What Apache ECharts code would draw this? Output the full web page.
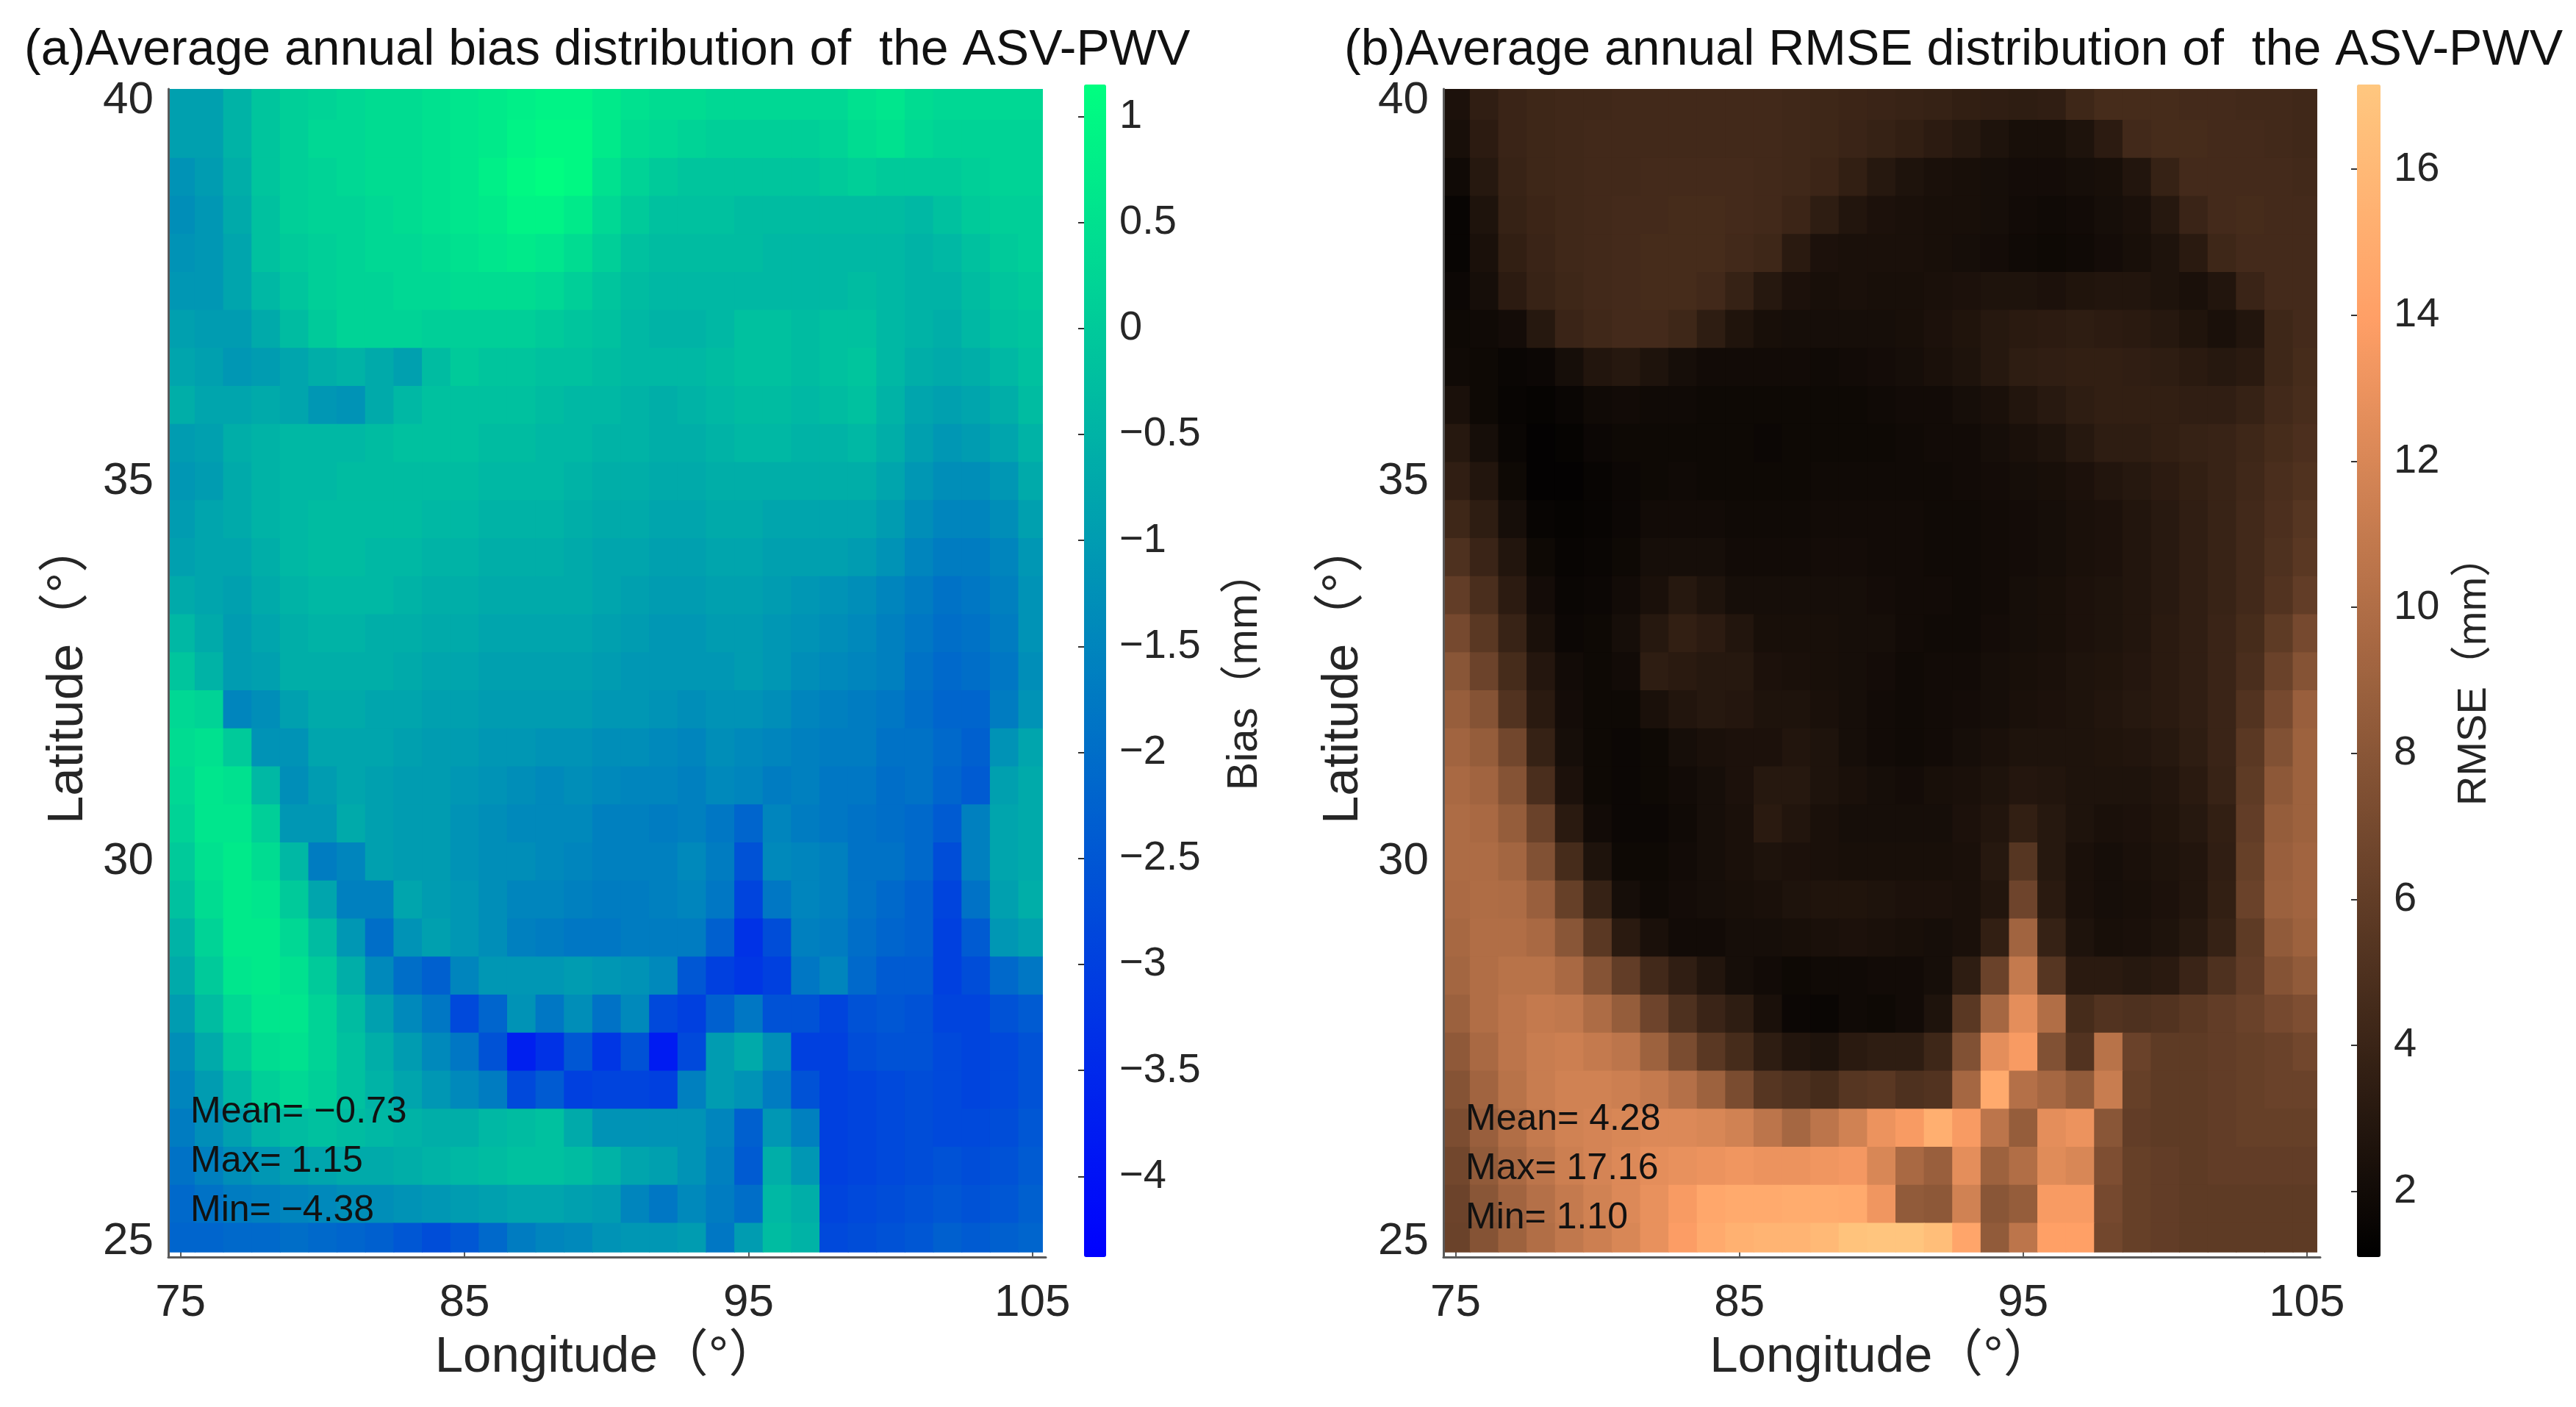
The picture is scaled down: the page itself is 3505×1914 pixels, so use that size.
<!DOCTYPE html>
<html>
<head>
<meta charset="utf-8">
<style>html,body{margin:0;padding:0;background:#fff}#main{width:3505px;height:1914px}</style>
<script src="https://cdn.jsdelivr.net/npm/echarts@6/dist/echarts.min.js"></script>
</head>
<body>
<div id="main"></div>
<script>
var lons=[75,76,77,78,79,80,81,82,83,84,85,86,87,88,89,90,91,92,93,94,95,96,97,98,99,100,101,102,103,104,105];
var lats=[40,39.5,39,38.5,38,37.5,37,36.5,36,35.5,35,34.5,34,33.5,33,32.5,32,31.5,31,30.5,30,29.5,29,28.5,28,27.5,27,26.5,26,25.5,25];
var lonTicks=[75,85,95,105];
var latTicks=[25,30,35,40];
var biasTicks=[1,0.5,0,-0.5,-1,-1.5,-2,-2.5,-3,-3.5,-4];
var rmseTicks=[2,4,6,8,10,12,14,16];
var biasStats=["Mean= \u22120.73","Max= 1.15","Min= \u22124.38"];
var rmseStats=["Mean= 4.28","Max= 17.16","Min= 1.10"];

// one row per latitude, north to south
var biasRows=[
[-0.9,-0.9,-0.5,-0.1,0.1,0.2,0.3,0.4,0.4,0.5,0.6,0.7,0.8,0.9,0.9,0.7,0.5,0.4,0.4,0.3,0.3,0.3,0.3,0.3,0.5,0.6,0.4,0.3,0.3,0.3,0.3],
[-0.9,-0.9,-0.5,-0.1,0.1,0.3,0.3,0.4,0.4,0.5,0.6,0.7,0.9,1.0,1.0,0.7,0.4,0.3,0.2,0.1,0.1,0.1,0.1,0.2,0.4,0.5,0.3,0.2,0.2,0.2,0.2],
[-1.2,-1.0,-0.6,-0.1,0.1,0.2,0.3,0.4,0.4,0.5,0.6,0.8,1.0,1.1,1.0,0.5,0.2,0,-0.1,-0.1,-0.1,-0.1,-0.1,0,0.1,0,0,0,0.1,0.2,0.2],
[-1.3,-1.1,-0.7,-0.2,0.1,0.2,0.2,0.3,0.4,0.5,0.6,0.7,0.9,0.9,0.7,0.3,0,-0.2,-0.2,-0.2,-0.3,-0.3,-0.3,-0.3,-0.3,-0.3,-0.4,-0.2,0,0.1,0.1],
[-1.2,-1.1,-0.8,-0.2,0,0.1,0.2,0.3,0.3,0.4,0.5,0.6,0.7,0.6,0.4,0.1,-0.2,-0.3,-0.3,-0.3,-0.3,-0.4,-0.4,-0.4,-0.4,-0.4,-0.5,-0.4,-0.2,0,0.1],
[-1.1,-1.1,-0.8,-0.4,-0.1,0.1,0.2,0.2,0.3,0.3,0.4,0.4,0.4,0.3,0.1,-0.1,-0.3,-0.4,-0.4,-0.4,-0.4,-0.4,-0.4,-0.4,-0.3,-0.4,-0.5,-0.5,-0.3,-0.1,0],
[-0.9,-1.0,-1.0,-0.7,-0.3,0,0.2,0.2,0.2,0.1,0.1,0.1,0.1,0,-0.1,-0.2,-0.4,-0.5,-0.5,-0.4,-0.2,-0.2,-0.3,-0.2,-0.2,-0.4,-0.5,-0.6,-0.4,-0.2,-0.1],
[-0.8,-0.9,-1.1,-1.0,-0.8,-0.6,-0.5,-0.7,-0.9,-0.3,0,-0.1,-0.1,-0.2,-0.2,-0.3,-0.4,-0.4,-0.4,-0.3,-0.2,-0.2,-0.3,-0.2,-0.1,-0.4,-0.6,-0.7,-0.6,-0.4,-0.2],
[-0.6,-0.8,-0.8,-0.7,-0.8,-1.1,-1.2,-0.7,-0.4,-0.2,-0.2,-0.2,-0.2,-0.3,-0.4,-0.4,-0.5,-0.6,-0.5,-0.4,-0.3,-0.3,-0.4,-0.3,-0.2,-0.5,-0.8,-0.9,-0.8,-0.6,-0.3],
[-1.0,-0.9,-0.6,-0.5,-0.4,-0.4,-0.4,-0.3,-0.2,-0.2,-0.2,-0.3,-0.3,-0.4,-0.4,-0.5,-0.5,-0.6,-0.6,-0.5,-0.4,-0.4,-0.5,-0.5,-0.4,-0.6,-0.9,-1.1,-1.0,-0.8,-0.5],
[-1.1,-1.0,-0.7,-0.5,-0.4,-0.4,-0.3,-0.3,-0.3,-0.3,-0.3,-0.4,-0.4,-0.4,-0.5,-0.6,-0.6,-0.7,-0.7,-0.6,-0.6,-0.6,-0.6,-0.6,-0.6,-0.8,-1.1,-1.3,-1.3,-1.1,-0.7],
[-1.0,-0.8,-0.7,-0.5,-0.4,-0.3,-0.3,-0.3,-0.3,-0.4,-0.4,-0.5,-0.5,-0.5,-0.6,-0.7,-0.7,-0.8,-0.8,-0.7,-0.7,-0.8,-0.8,-0.8,-0.8,-1.0,-1.3,-1.5,-1.5,-1.3,-0.9],
[-0.9,-0.8,-0.8,-0.6,-0.4,-0.3,-0.3,-0.4,-0.4,-0.5,-0.5,-0.6,-0.6,-0.6,-0.7,-0.8,-0.8,-0.9,-0.9,-0.8,-0.8,-0.9,-0.9,-0.9,-1.0,-1.2,-1.5,-1.7,-1.7,-1.5,-1.1],
[-0.7,-0.8,-0.9,-0.7,-0.5,-0.4,-0.4,-0.4,-0.5,-0.6,-0.6,-0.7,-0.7,-0.7,-0.7,-0.8,-0.9,-1.0,-1.0,-0.9,-0.9,-1.0,-1.1,-1.2,-1.3,-1.5,-1.7,-1.9,-1.8,-1.6,-1.2],
[-0.4,-0.7,-1.0,-0.8,-0.6,-0.5,-0.5,-0.6,-0.6,-0.7,-0.7,-0.8,-0.8,-0.8,-0.8,-0.9,-1.0,-1.1,-1.1,-1.0,-1.0,-1.1,-1.2,-1.3,-1.4,-1.6,-1.8,-2.0,-1.9,-1.7,-1.2],
[-0.1,-0.5,-1.0,-0.9,-0.6,-0.6,-0.6,-0.6,-0.7,-0.8,-0.8,-0.9,-0.9,-0.9,-0.9,-1.0,-1.1,-1.1,-1.1,-1.1,-1.0,-1.1,-1.3,-1.4,-1.5,-1.6,-1.9,-2.1,-2.0,-1.8,-1.3],
[0.3,0.2,-1.5,-1.3,-0.9,-0.7,-0.7,-0.8,-0.8,-0.9,-0.9,-1.0,-1.0,-1.0,-1.0,-1.1,-1.1,-1.2,-1.3,-1.2,-1.2,-1.3,-1.5,-1.6,-1.7,-1.8,-2.0,-2.2,-2.2,-1.7,-1.2],
[0.4,0.5,0,-1.2,-1.2,-0.8,-0.8,-0.8,-0.9,-1.0,-1.0,-1.1,-1.1,-1.2,-1.2,-1.3,-1.3,-1.4,-1.5,-1.3,-1.4,-1.5,-1.6,-1.7,-1.7,-1.9,-1.9,-2.1,-2.3,-1.2,-0.8],
[0.3,0.6,0.5,-0.4,-1.3,-1.0,-0.8,-0.9,-1.0,-1.0,-1.1,-1.2,-1.3,-1.4,-1.3,-1.4,-1.5,-1.5,-1.6,-1.4,-1.5,-1.7,-1.6,-1.8,-1.8,-2.0,-1.9,-2.2,-2.4,-0.9,-0.7],
[0.2,0.6,0.6,0.1,-1.1,-1.1,-0.7,-0.9,-1.0,-1.0,-1.2,-1.3,-1.4,-1.4,-1.4,-1.6,-1.6,-1.7,-1.6,-1.8,-2.2,-1.5,-1.7,-1.8,-1.9,-2.0,-2.1,-2.4,-1.6,-0.8,-0.7],
[0,0.5,0.7,0.4,-0.4,-1.7,-1.5,-0.9,-1.0,-1.0,-1.2,-1.3,-1.3,-1.4,-1.5,-1.6,-1.6,-1.6,-1.4,-1.7,-2.6,-1.4,-1.5,-1.6,-1.9,-1.9,-2.1,-2.7,-1.6,-0.8,-0.7],
[-0.2,0.4,0.7,0.6,0,-0.8,-1.6,-1.6,-0.8,-1.0,-1.1,-1.3,-1.5,-1.5,-1.6,-1.7,-1.7,-1.6,-1.5,-1.8,-2.9,-1.8,-1.5,-1.6,-1.9,-2.1,-2.3,-2.9,-1.9,-0.9,-0.6],
[-0.5,0.2,0.7,0.7,0.3,-0.3,-1.1,-2.0,-1.2,-0.9,-1.1,-1.3,-1.6,-1.7,-1.8,-1.8,-1.7,-1.7,-1.7,-2.3,-3.3,-2.7,-1.6,-1.7,-2.0,-2.2,-2.3,-3.0,-2.4,-1.1,-0.9],
[-0.7,0,0.6,0.7,0.5,0,-0.6,-1.4,-2.0,-2.3,-1.5,-1.1,-1.1,-1.1,-1.0,-1.1,-1.2,-1.4,-2.5,-3.0,-3.2,-3.0,-1.8,-1.5,-2.1,-2.4,-2.4,-3.0,-2.7,-2.1,-1.8],
[-1.0,-0.3,0.3,0.6,0.6,0.2,-0.3,-0.9,-1.4,-1.8,-2.8,-2.2,-1.2,-1.8,-1.3,-1.9,-1.4,-2.8,-3.0,-2.3,-1.8,-2.6,-2.6,-2.9,-2.6,-2.5,-2.6,-2.9,-2.9,-2.6,-2.4],
[-1.3,-0.7,0,0.4,0.5,0.2,-0.2,-0.6,-1.0,-1.4,-1.8,-2.6,-3.7,-3.3,-2.5,-3.2,-2.6,-3.8,-2.8,-1.0,-0.7,-1.3,-3.0,-3.0,-2.7,-2.6,-2.6,-2.8,-2.9,-2.8,-2.6],
[-1.5,-1.0,-0.4,0.1,0.3,0.1,-0.2,-0.5,-0.8,-1.1,-1.4,-1.7,-2.8,-2.4,-3.0,-2.9,-2.9,-3.0,-1.6,-1.0,-1.2,-1.7,-2.6,-3.0,-2.9,-2.8,-2.7,-2.8,-2.9,-2.8,-2.6],
[-1.7,-1.3,-0.9,-0.5,-0.3,-0.2,-0.3,-0.4,-0.5,-0.6,-0.6,-0.4,-0.3,-0.2,-0.7,-1.2,-1.2,-1.2,-1.2,-1.5,-2.3,-1.1,-1.6,-3.0,-2.9,-2.8,-2.7,-2.8,-2.8,-2.7,-2.5],
[-1.9,-1.6,-1.3,-1.1,-0.9,-0.8,-0.7,-0.7,-0.6,-0.5,-0.4,-0.3,-0.2,-0.2,-0.3,-0.5,-0.8,-0.9,-1.2,-1.6,-2.4,-0.6,-1.1,-3.0,-2.9,-2.8,-2.7,-2.6,-2.7,-2.6,-2.4],
[-2.1,-1.9,-1.7,-1.6,-1.5,-1.4,-1.3,-1.3,-1.2,-1.1,-1.0,-0.9,-0.8,-0.8,-0.9,-1.0,-1.5,-1.8,-1.4,-1.7,-2.0,-0.4,-0.6,-2.9,-2.8,-2.7,-2.6,-2.5,-2.6,-2.5,-2.3],
[-2.2,-2.2,-2.1,-2.1,-2.0,-2.1,-2.2,-2.3,-2.5,-2.7,-2.5,-2.1,-1.7,-1.5,-1.4,-1.2,-1.1,-1.1,-1.0,-1.8,-1.0,-0.3,-0.5,-2.8,-2.7,-2.6,-2.5,-2.3,-2.4,-2.3,-2.2]
];
var rmseRows=[
[2.5,3.5,4.0,4.2,4.3,4.3,4.4,4.4,4.4,4.4,4.4,4.4,4.3,4.2,4.1,4.0,3.9,3.8,3.6,3.5,3.4,3.5,4.2,4.6,4.6,4.6,4.5,4.5,4.4,4.4,4.3],
[2.3,3.3,4.0,4.2,4.3,4.4,4.4,4.4,4.4,4.4,4.4,4.4,4.3,4.2,4.0,3.8,3.6,3.3,3.0,2.6,2.3,2.3,2.6,3.3,4.4,4.6,4.6,4.5,4.5,4.4,4.3],
[1.9,3.0,3.9,4.2,4.3,4.4,4.4,4.5,4.5,4.5,4.5,4.4,4.3,4.1,3.6,3.0,2.6,2.4,2.3,2.2,2.1,2.1,2.2,2.3,2.8,3.8,4.5,4.5,4.5,4.5,4.4],
[1.5,2.6,3.8,4.1,4.3,4.4,4.5,4.5,4.6,4.6,4.5,4.4,4.1,3.4,2.8,2.5,2.4,2.3,2.3,2.2,2.0,1.9,2.0,2.2,2.4,3.0,4.0,4.5,4.6,4.5,4.5],
[1.5,2.4,3.6,4.0,4.3,4.4,4.5,4.6,4.6,4.6,4.4,4.2,3.2,2.5,2.4,2.4,2.4,2.3,2.2,2.1,1.9,1.8,1.9,2.1,2.3,2.6,3.2,4.2,4.5,4.5,4.5],
[1.7,2.2,3.3,3.9,4.2,4.4,4.5,4.6,4.6,4.4,3.8,3.0,2.5,2.3,2.4,2.3,2.3,2.4,2.5,2.6,2.6,2.5,2.7,2.8,2.8,2.6,2.4,2.8,4.0,4.5,4.5],
[1.8,1.9,2.1,3.0,4.0,4.3,4.5,4.5,4.2,3.4,2.7,2.3,2.2,2.2,2.2,2.2,2.3,2.5,2.7,3.0,3.2,3.3,3.4,3.3,3.2,3.0,2.7,2.4,2.8,4.2,4.5],
[1.9,1.8,1.6,1.7,2.2,2.8,3.0,2.6,2.2,2.0,2.0,2.0,2.0,1.9,2.0,2.1,2.2,2.4,2.6,3.0,3.4,3.5,3.6,3.6,3.5,3.4,3.2,3.0,3.2,4.2,4.6],
[2.4,1.8,1.5,1.4,1.6,1.9,2.0,1.9,1.9,1.8,1.8,1.8,1.8,1.8,1.8,1.9,2.0,2.0,2.2,2.4,2.8,3.1,3.4,3.6,3.6,3.6,3.5,3.5,3.8,4.4,4.7],
[3.0,2.2,1.6,1.3,1.4,1.7,1.8,1.8,1.8,1.8,1.8,1.7,1.8,1.8,1.8,1.8,1.9,2.0,2.0,2.2,2.4,2.6,3.0,3.4,3.4,3.6,3.8,3.9,4.2,4.6,4.9],
[3.5,2.8,1.8,1.3,1.3,1.5,1.7,1.8,1.9,1.8,1.8,1.8,1.8,1.9,1.9,1.9,1.9,1.9,2.0,2.1,2.2,2.3,2.5,2.8,3.0,3.3,3.6,3.9,4.3,4.8,5.1],
[4.2,3.4,2.2,1.5,1.4,1.5,1.7,2.0,2.0,2.0,1.9,1.9,1.9,2.0,2.0,2.0,2.0,1.9,1.9,2.0,2.1,2.2,2.4,2.5,2.8,3.1,3.5,3.9,4.4,4.9,5.4],
[5.0,4.0,2.8,1.8,1.5,1.6,1.8,2.2,2.2,2.2,2.0,2.0,2.0,2.1,2.1,2.0,2.0,1.9,1.9,2.0,2.1,2.2,2.4,2.5,2.8,3.1,3.5,3.9,4.4,5.0,5.6],
[6.0,4.8,3.3,2.1,1.6,1.7,2.0,2.4,3.0,2.6,2.2,2.2,2.2,2.2,2.2,2.1,2.0,2.0,1.9,2.0,2.2,2.3,2.5,2.6,2.8,3.1,3.5,3.9,4.4,5.2,6.0],
[7.0,5.6,3.9,2.4,1.7,1.8,2.2,3.0,3.6,3.3,2.8,2.3,2.3,2.3,2.2,2.2,2.0,1.9,1.9,2.1,2.2,2.3,2.5,2.6,2.8,3.2,3.5,4.0,4.6,5.8,7.0],
[8.0,6.5,4.6,2.9,2.0,1.8,2.0,3.4,3.2,3.0,3.0,2.5,2.4,2.3,2.2,2.1,1.9,2.0,2.0,2.2,2.3,2.4,2.6,2.7,2.9,3.2,3.5,4.0,4.8,6.4,7.8],
[8.7,7.8,5.2,3.2,2.1,1.8,1.8,2.4,2.8,3.0,2.9,2.6,2.6,2.4,2.2,2.0,1.9,2.0,2.1,2.2,2.4,2.5,2.6,2.8,3.0,3.2,3.5,4.0,5.2,7.0,8.8],
[9.2,8.6,6.8,3.8,2.2,1.8,1.7,1.8,2.2,2.4,2.5,2.5,2.8,2.6,2.2,2.0,1.9,2.0,2.2,2.4,2.6,2.6,2.6,2.7,2.8,3.0,3.4,4.0,5.6,7.6,9.0],
[9.6,9.2,7.8,4.8,2.5,1.8,1.7,1.8,2.0,2.2,2.5,3.0,3.0,2.6,2.4,2.2,2.1,2.3,2.4,2.6,2.9,2.8,2.6,2.6,2.6,2.8,3.2,3.9,5.8,8.2,9.0],
[9.8,9.6,8.6,6.4,3.2,2.0,1.7,1.7,1.9,2.2,2.4,3.2,2.8,2.4,2.2,2.2,2.2,2.2,2.5,2.8,3.6,3.0,2.6,2.4,2.5,2.7,3.0,3.6,6.0,8.6,9.0],
[9.8,9.8,9.3,7.6,4.6,2.6,1.8,1.8,2.0,2.2,2.4,2.6,2.5,2.4,2.3,2.3,2.3,2.3,2.4,3.0,5.4,3.0,2.4,2.2,2.4,2.6,2.8,3.5,6.2,8.8,9.2],
[9.7,9.9,9.8,8.8,6.2,3.8,2.2,1.9,2.1,2.2,2.3,2.4,2.6,2.7,2.7,2.6,2.5,2.5,2.4,2.8,6.6,3.2,2.4,2.2,2.3,2.5,2.8,3.6,6.4,8.9,9.2],
[9.5,10,10,9.6,8.0,5.6,3.2,2.4,2.0,2.0,2.2,2.2,2.3,2.4,2.5,2.4,2.3,2.2,2.4,3.6,9.2,3.8,2.6,2.3,2.4,2.6,3.0,3.8,5.8,8.4,9.0],
[9.3,10,10.4,10.4,9.6,7.8,6.0,4.4,3.5,2.8,2.2,2.0,1.8,1.9,1.9,2.0,2.0,2.2,3.4,6.4,11,5.4,3.2,3.2,3.0,3.2,4.0,5.0,6.0,7.8,8.4],
[8.9,10,10.6,11,10.8,9.8,8.6,6.6,5.0,4.0,3.4,2.4,1.7,1.6,1.9,1.8,2.0,2.6,5.6,9.4,12.6,10.0,4.6,5.2,5.0,5.2,5.6,6.0,6.4,7.0,7.4],
[8.3,9.6,10.6,11.2,11.4,11,10.6,9.0,7.2,5.6,4.6,3.4,2.8,2.6,3.2,3.4,3.4,4.2,7.6,12.6,13.6,7.6,5.2,10.4,6.4,5.8,5.8,6.0,6.2,6.4,6.8],
[7.8,9.2,10.4,11.2,11.6,11.6,11.4,11,10.2,9.0,7.2,5.4,5.0,4.6,5.4,5.6,5.0,5.2,9.4,14.8,10.2,9.4,8.4,11.2,6.2,5.8,5.8,6,6.2,6.4,6.4],
[7.3,8.8,10,11,11.6,11.8,12,12.2,12.2,12,11.6,10.6,9.4,10.6,11.6,13,13.6,15.2,13.6,10.6,8.6,12.6,13,8.0,6.0,5.8,5.8,6,6.2,6.2,6.2],
[6.8,8.4,9.6,10.6,11.4,11.8,12.2,12.6,12.8,13,13.2,13,13,13.2,13.4,12,9.6,8.8,12.6,9,10,12.4,12,7.4,6.2,6,5.8,6,6,6,6],
[6.5,8,9.2,10.2,11,11.6,12.2,12.8,13.6,14.6,14.8,14.8,15,15,14.8,13.2,8.4,8.2,11.6,8,8.6,13.6,13.6,7,6.2,6,5.8,5.8,5.8,5.8,5.8],
[6.4,7.8,9,10,10.8,11.4,12,12.8,13.8,14.8,15.4,15.6,15.6,16,16.8,17,17,16.4,14.4,8.4,10.6,14,14,6.8,6.2,6,5.8,5.8,5.8,5.8,5.8]
];

var myChart=echarts.init(document.getElementById("main"));
var fontFamily='"Liberation Sans","Noto Sans CJK SC",sans-serif';
var textColor="#262626";
var axisColor="#5a5a5a";

// MATLAB winter and copper
var winter=["#0000ff","#00ff80"];
var copper=["#000000","#402819","#805033","#bf774c","#ff9f66","#ffc77f"];

// the image stops a little short of the axes, the cells are cut to it
var imgLon=[74.62,105.34];
var imgLat=[24.87,40.155];

var toCells=function(rows){
	var out=[];
	for(var r=0;r<lats.length;r++){
		for(var c=0;c<lons.length;c++){
			out.push([lons[c],lats[r],rows[r][c]]);
		}
	}
	return out;
};
var renderCell=function(params,api){
	var lon=api.value(0),lat=api.value(1);
	var a=api.coord([Math.max(lon-0.5,imgLon[0]),Math.min(lat+0.25,imgLat[1])]);
	var b=api.coord([Math.min(lon+0.5,imgLon[1]),Math.max(lat-0.25,imgLat[0])]);
	return {
		type:"rect",
		shape:{x:a[0],y:a[1],width:b[0]-a[0]+1,height:b[1]-a[1]+1},
		style:{fill:api.visual("color")},
		silent:true
	};
};
var minusFmt=function(v){
	return String(v).replace("-","\u2212");
};
var lonAxis=function(idx){
	return {
		type:"value",gridIndex:idx,min:74.57,max:105.47,
		name:"Longitude\uff08\u00b0\uff09",nameLocation:"middle",nameGap:102,
		nameTextStyle:{fontSize:69,color:textColor,fontFamily:fontFamily},
		splitLine:{show:false},
		axisLine:{lineStyle:{color:axisColor,width:3}},
		axisTick:{inside:true,length:12,customValues:lonTicks,lineStyle:{color:axisColor,width:2}},
		axisLabel:{customValues:lonTicks,fontSize:62,margin:32,color:textColor,fontFamily:fontFamily,hideOverlap:false,showMinLabel:true,showMaxLabel:true}
	};
};
var latAxis=function(idx){
	return {
		type:"value",gridIndex:idx,min:24.8,max:40.155,
		name:"Latitude\uff08\u00b0\uff09",nameLocation:"middle",nameGap:102,
		nameTextStyle:{fontSize:69,color:textColor,fontFamily:fontFamily},
		splitLine:{show:false},
		axisLine:{lineStyle:{color:axisColor,width:3}},
		axisTick:{inside:true,length:12,customValues:latTicks,lineStyle:{color:axisColor,width:2}},
		axisLabel:{customValues:latTicks,fontSize:62,margin:20,padding:[6,0,0,0],color:textColor,fontFamily:fontFamily,showMinLabel:true,showMaxLabel:true}
	};
};
var barAxis=function(idx,min,max,ticks,name,gap,nameSize){
	return {
		type:"value",gridIndex:idx,min:min,max:max,position:"right",
		name:name,nameLocation:"middle",nameGap:gap,nameRotate:90,
		nameTextStyle:{fontSize:nameSize,color:textColor,fontFamily:fontFamily},
		splitLine:{show:false},
		axisLine:{show:false},
		axisTick:{inside:true,length:8,customValues:ticks,lineStyle:{color:"#333",width:2}},
		axisLabel:{customValues:ticks,fontSize:56,margin:18,padding:[6,0,0,0],color:textColor,fontFamily:fontFamily,formatter:minusFmt}
	};
};
var statText=function(lines,left,tops){
	var out=[];
	for(var i=0;i<lines.length;i++){
		out.push({type:"text",z:100,left:left,top:tops[i],style:{text:lines[i],fontSize:50,fill:"#111",fontFamily:fontFamily}});
	}
	return out;
};

var option={
	backgroundColor:"#fff",
	animation:false,
	title:[
		{text:"(a)Average annual bias distribution of  the ASV-PWV",left:28,top:30,textStyle:{fontSize:68,fontWeight:"normal",color:"#111",fontFamily:fontFamily}},
		{text:"(b)Average annual RMSE distribution of  the ASV-PWV",left:1824,top:30,textStyle:{fontSize:68,fontWeight:"normal",color:"#111",fontFamily:fontFamily}}
	],
	grid:[
		{left:229,top:121,width:1194,height:1589},
		{left:1964,top:121,width:1193,height:1589},
		{left:1475,top:115,width:30,height:1595},
		{left:3207,top:115,width:32,height:1595}
	],
	xAxis:[
		lonAxis(0),lonAxis(1),
		{type:"value",gridIndex:2,min:0,max:1,show:false},
		{type:"value",gridIndex:3,min:0,max:1,show:false}
	],
	yAxis:[
		latAxis(0),latAxis(1),
		barAxis(2,-4.38,1.15,biasTicks,"Bias\uff08mm\uff09",160,58),
		barAxis(3,1.1,17.16,rmseTicks,"RMSE\uff08mm\uff09",100,56)
	],
	visualMap:[
		{type:"continuous",seriesIndex:0,dimension:2,min:-4.38,max:1.15,left:1475,top:115,itemWidth:30,itemHeight:1595,padding:0,text:null,calculable:false,realtime:false,hoverLink:false,inRange:{color:winter}},
		{type:"continuous",seriesIndex:1,dimension:2,min:1.1,max:17.16,left:3207,top:115,itemWidth:32,itemHeight:1595,padding:0,text:null,calculable:false,realtime:false,hoverLink:false,inRange:{color:copper}}
	],
	series:[
		{type:"custom",xAxisIndex:0,yAxisIndex:0,renderItem:renderCell,encode:{x:0,y:1},data:toCells(biasRows),silent:true,z:1},
		{type:"custom",xAxisIndex:1,yAxisIndex:1,renderItem:renderCell,encode:{x:0,y:1},data:toCells(rmseRows),silent:true,z:1}
	],
	graphic:statText(biasStats,259,[1488,1555,1622]).concat(statText(rmseStats,1994,[1498,1565,1632]))
};
myChart.setOption(option);
</script>
</body>
</html>
